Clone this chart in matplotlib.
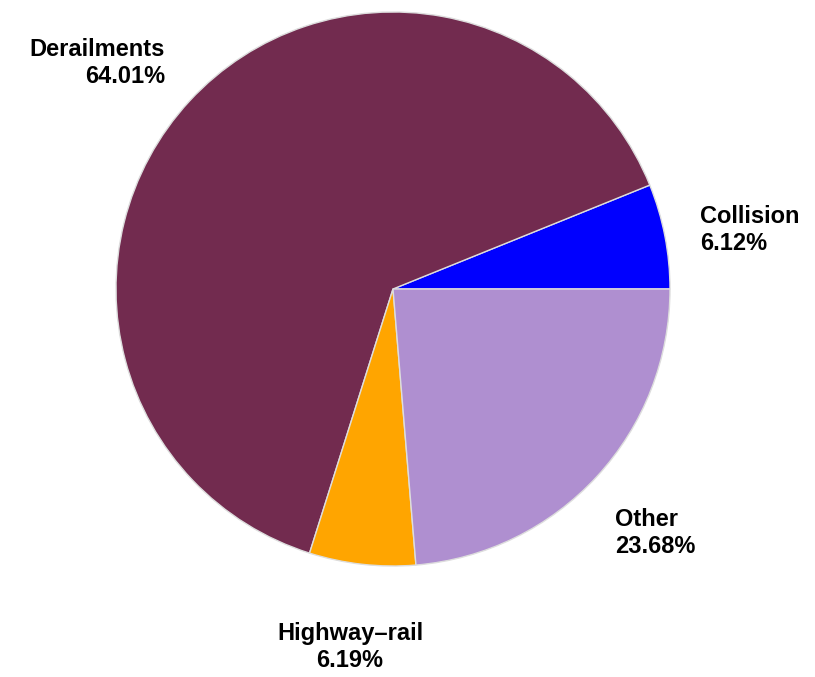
import matplotlib.pyplot as plt

# Datos del gráfico
categorias = ["Collision", "Derailments", "Highway\u2013rail", "Other"]
porcentajes = [6.12, 64.01, 6.19, 23.68]
colores = ["#0000FF", "#722B4F", "#FFA500", "#AF8FD0"]

plt.rcParams['font.family'] = ['Liberation Sans', 'DejaVu Sans']

W, H = 815, 677
cx, cy, r = 393, 289, 277

fig = plt.figure(figsize=(W / 100, H / 100), dpi=100)
ax = fig.add_axes([(cx - r) / W, (H - cy - r) / H, 2 * r / W, 2 * r / H])
ax.pie(porcentajes, colors=colores, startangle=0, counterclock=True,
       radius=1, wedgeprops=dict(edgecolor="#dddddd", linewidth=1))
ax.set_xlim(-1, 1)
ax.set_ylim(-1, 1)
ax.axis('off')

# Posiciones de las etiquetas (pixeles de la imagen)
pos = {
    "Collision": (700, 230, 'left'),
    "Derailments": (165, 63, 'right'),
    "Highway\u2013rail": (350, 647, 'center'),
    "Other": (615, 533, 'left'),
}
for cat, p in zip(categorias, porcentajes):
    px, py, ha = pos[cat]
    ax.text((px - cx) / r, (cy - py) / r, f"{cat}\n{p:.2f}%",
            ha=ha, va='center', multialignment=ha,
            fontsize=17, fontweight='bold', linespacing=1.25,
            clip_on=False)

fig.savefig("out.png", dpi=100, facecolor="white")
